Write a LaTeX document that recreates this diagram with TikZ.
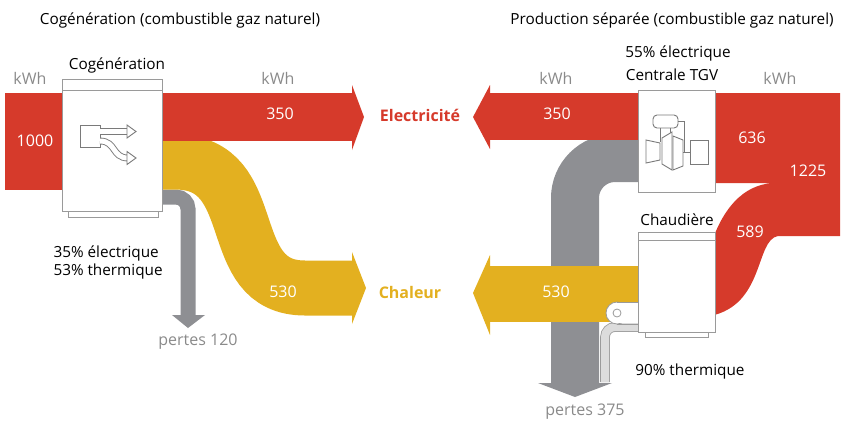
\documentclass[tikz,border=0pt]{standalone}
\usepackage{fontspec}
\setmainfont{Open Sans}
\begin{document}
\begin{tikzpicture}[x=1pt,y=-1pt,
  lab/.style={font=\fontsize{15.3}{18}\selectfont,text=black},
  kwh/.style={font=\fontsize{16}{18}\selectfont,text=txtgrey},
  num/.style={font=\fontsize{16}{18}\selectfont,text=white},
  box/.style={fill=white,draw=boxgrey,line width=0.8},
  ico/.style={draw=icogrey,line width=0.9,fill=white}]
\definecolor{red}{HTML}{D63A2B}
\definecolor{yel}{HTML}{E3B020}
\definecolor{gry}{HTML}{8E8F93}
\definecolor{txtgrey}{HTML}{8A8A8A}
\definecolor{boxgrey}{HTML}{9A9A9A}
\definecolor{icogrey}{HTML}{7A7A7A}
\definecolor{lgry}{HTML}{DCDCDC}
\useasboundingbox (0,0) rectangle (850,432);
% titles
\node[lab] (t1) at (180,20) {Cogénération (combustible gaz naturel)};
\node[lab] (t2) at (672,20) {Production séparée (combustible gaz naturel)};
% ===== LEFT =====
\draw[gry,line width=15,rounded corners=12] (160,197) -- (188,197) -- (188,317);
\fill[gry] (172,315) -- (205,315) -- (188,328) -- cycle;
\draw[yel,line width=55] (160,162) -- (175,162) .. controls (265,162) and (220,288) .. (305,288) -- (353,288);
\fill[yel] (352,252) -- (366,288) -- (352,324) -- cycle;
\fill[red] (5,93) rectangle (64,190);
\fill[red] (160,93) rectangle (353,141);
\fill[red] (352,85) -- (364,117) -- (352,150) -- cycle;
% cogeneration box
\draw[box] (68,208) rectangle (158,217);
\node[box,minimum width=100,minimum height=132,inner sep=0,anchor=north west] (cog) at (62,79) {};
\draw[boxgrey,line width=0.8] (62,90) -- (162,90);
\draw[ico] (80,125) rectangle (100,147);
\draw[icogrey,line width=0.9,double=white,double distance=5] (100,131.5) -- (128,131.5);
\draw[icogrey,line width=0.9,double=white,double distance=5] (100,141) .. controls (116,141) and (112,158) .. (128,158);
\draw[ico] (127,125) -- (136,131.5) -- (127,138) -- cycle;
\draw[ico] (127,151.5) -- (136,158) -- (127,164.5) -- cycle;
\node[lab] (cogl) at (117,65) {Cogénération};
\node[kwh] (k1) at (30,78) {kWh};
\node[kwh] (k2) at (278,78) {kWh};
\node[num] (n1000) at (35,141) {1000};
\node[num] (n350a) at (280,114) {350};
\node[num] (n530a) at (283,292) {530};
\node[lab,align=left,anchor=west] (pct) at (50,262) {35\% électrique\\53\% thermique};
\node[kwh] (p120) at (198,342) {pertes 120};
\node[font=\bfseries\fontsize{16}{18}\selectfont,text=red] (elec) at (420,115) {Electricité};
\node[font=\bfseries\fontsize{16}{18}\selectfont,text=yel] (chal) at (410,292) {Chaleur};
% ===== RIGHT =====
\draw[gry,line width=48,rounded corners=40] (640,158) -- (575,158) -- (575,385);
\fill[gry] (538,383) -- (612,383) -- (575,397) -- cycle;
\fill[yel] (488,266) rectangle (640,322);
\fill[yel] (490,255) -- (473,293) -- (490,335) -- cycle;
\draw[boxgrey,line width=0.8,double=lgry,double distance=8,rounded corners=10] (640,327) -- (605,327) -- (605,382);
\fill[red] (488,93) rectangle (640,140);
\fill[red] (490,85) -- (473,117) -- (490,149) -- cycle;
\fill[red] (710,93) -- (840,93) -- (840,236) -- (778,236) .. controls (755,240) and (765,305) .. (710,316) -- (710,247) .. controls (725,200) and (750,183) .. (776,183) -- (710,183) -- cycle;
% burner
\draw[box] (617,313) circle (11);
\fill[white] (617,303) rectangle (639,323);
\draw[boxgrey,line width=0.8] (617,302) -- (639,302) (617,324) -- (639,324);
\draw[boxgrey,line width=0.8] (617,313) circle (4);
% TGV box
\node[box,minimum width=77,minimum height=102,inner sep=0,anchor=north west] (tgv) at (638,90) {};
\draw[ico,rounded corners=4] (653,115) rectangle (678,128);
\draw[icogrey,line width=0.9] (660,128) -- (660,142) (670,128) -- (670,140) (678,121) -- (684,121) -- (684,152);
\draw[ico] (646,140) -- (660,143) -- (660,160) -- (646,163) -- cycle;
\draw[ico] (662,138) -- (672,132) -- (672,170) -- (662,164) -- cycle;
\draw[ico] (673,136) -- (683,140) -- (683,166) -- (673,170) -- cycle;
\draw[icogrey,line width=0.9] (683,152) -- (690,152);
\draw[ico] (690,140) rectangle (708,164);
% chaudiere
\draw[box] (645,330) rectangle (708,337);
\node[box,minimum width=77,minimum height=100,inner sep=0,anchor=north west] (chd) at (638,232) {};
\draw[boxgrey,line width=0.8] (638,240) -- (715,240);
\node[lab] (l55) at (678,53) {55\% électrique};
\node[lab] (ltgv) at (672,75) {Centrale TGV};
\node[lab] (lch) at (677,220) {Chaudière};
\node[lab] (l90) at (690,372) {90\% thermique};
\node[kwh] (k3) at (556,78) {kWh};
\node[kwh] (k4) at (780,78) {kWh};
\node[num] (n350b) at (557,114) {350};
\node[num] (n636) at (752,138) {636};
\node[num] (n1225) at (808,171) {1225};
\node[num] (n589) at (750,232) {589};
\node[num] (n530b) at (556,292) {530};
\node[kwh] (p375) at (585,412) {pertes 375};
\end{tikzpicture}
\end{document}
